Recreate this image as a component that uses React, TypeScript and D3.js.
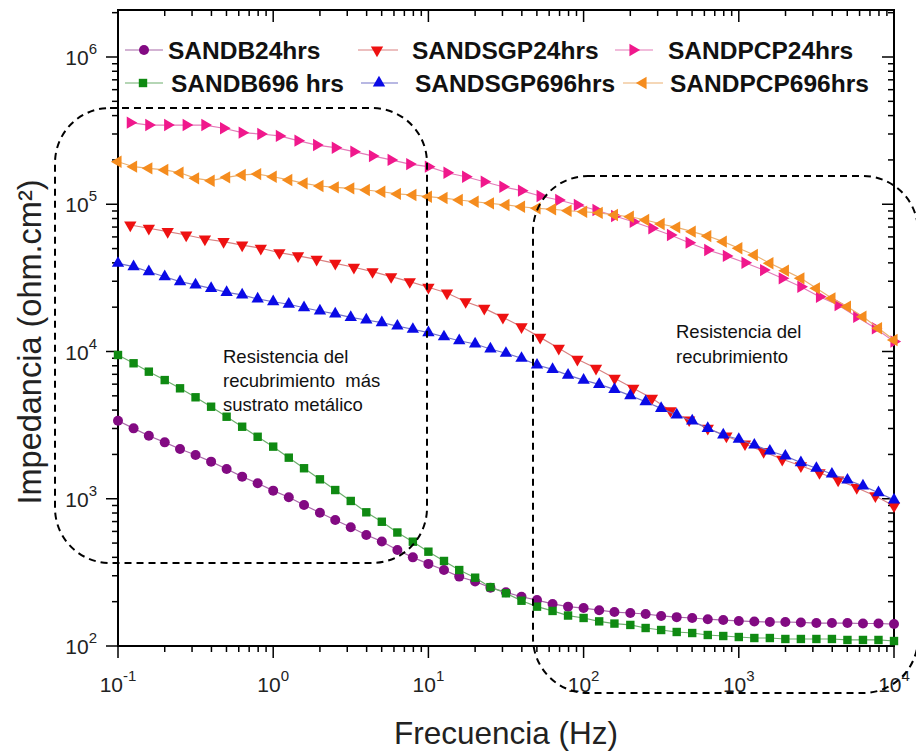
import React from 'react';
import * as d3 from 'd3';

// Measurement frequencies (Hz)
const freqA = [0.1, 0.126, 0.158, 0.2, 0.251, 0.316, 0.398, 0.501, 0.631, 0.794,
  1, 1.26, 1.58, 2, 2.51, 3.16, 3.98, 5.01, 6.31, 7.94,
  10, 12.6, 15.8, 20, 25.1, 31.6, 39.8, 50.1, 63.1, 79.4,
  100, 126, 158, 200, 251, 316, 398, 501, 631, 794,
  1000, 1259, 1585, 1995, 2512, 3162, 3981, 5012, 6310, 7943, 10000];
const freqB = [0.12, 0.158, 0.209, 0.275, 0.363, 0.479, 0.631, 0.832, 1.096, 1.445,
  1.905, 2.512, 3.311, 4.365, 5.754, 7.586, 10, 13.18, 17.38, 22.91,
  30.2, 39.81, 52.48, 69.18, 91.2, 120.2, 158.5, 208.9, 275.4, 363.1,
  478.6, 631, 831.8, 1096, 1445, 1905, 2512, 3311, 4365, 5754, 7586, 10000];

// |Z| in ohm.cm2
const zB24 = [3388, 3006, 2679, 2415, 2178, 1982, 1786, 1592, 1413, 1274,
  1135, 1023, 908, 804, 718, 640, 568, 513, 449, 400,
  361, 328, 296, 274, 249, 232, 216, 205, 193, 185,
  181, 175, 170, 167.5, 165, 160, 157, 155, 152, 150,
  148, 146.6, 145.5, 145.5, 144.5, 143.2, 143.2, 143.2, 142.2, 142.2, 141];
const zB696 = [9466, 8318, 7295, 6397, 5623, 4887, 4217, 3606, 3084, 2636,
  2259, 1901, 1611, 1355, 1146, 966, 809, 698, 590, 511,
  437, 378, 328, 291, 251, 228, 203, 185, 173, 161,
  155, 147, 142, 139, 132.5, 128.4, 124.5, 122.5, 118.8, 116.9,
  115.1, 113.3, 113.3, 111.6, 111.6, 111.6, 111.6, 109.9, 109.9, 109.9, 108.1];
const zSGP24 = [72280, 68710, 65160, 61800, 58080, 55720, 52840, 50230, 46880, 44570,
  42270, 39720, 37330, 34830, 32210, 29790, 27290, 24950, 21780, 19630,
  17060, 14720, 12470, 10510, 8851, 7691, 6577, 5623, 4809, 3963,
  3428, 3006, 2667, 2355, 2089, 1854, 1675, 1503, 1340, 1189, 1045, 893];
const zSGP696 = [39720, 37670, 34830, 32210, 29790, 28310, 26850, 25230, 24210, 22750,
  21780, 20940, 19820, 18840, 17990, 17060, 16370, 15700, 14890, 14160,
  13430, 12590, 11830, 11250, 10400, 9727, 8995, 8091, 7568, 6918,
  6397, 5984, 5534, 5012, 4560, 4111, 3707, 3373, 3006, 2710,
  2535, 2317, 2109, 1950, 1758, 1611, 1472, 1340, 1222, 1099, 982];
const zPCP24 = [358100, 345100, 345100, 345100, 345100, 328100, 306200, 299900, 291100, 270400,
  252400, 242100, 227500, 212800, 200000, 187500, 179900, 163700, 153800, 142200,
  131500, 123600, 113800, 106900, 98860, 91410, 83180, 76030, 68710, 61800,
  54830, 48870, 44570, 40090, 35730, 31410, 27540, 23550, 20700, 17220, 14390, 11670];
const zPCP696 = [194500, 179900, 175400, 171000, 163700, 150000, 144500, 152400, 158100, 160300,
  153800, 146200, 138700, 133000, 130300, 128200, 125000, 121600, 117500, 115600,
  112500, 110200, 106900, 104000, 101400, 98860, 96160, 93760, 92470, 90360,
  88920, 87290, 84530, 82220, 78160, 73450, 69660, 65160, 60810, 55720,
  50230, 45190, 39720, 35400, 31410, 26850, 22960, 20140, 17220, 14390, 11970];

const seriesNames = ['SANDB24hrs', 'SANDB696 hrs', 'SANDSGP24hrs', 'SANDSGP696hrs', 'SANDPCP24hrs', 'SANDPCP696hrs'];
const xTickLabels = ['-1', '0', '1', '2', '3', '4'];
const yTickLabels = ['2', '3', '4', '5', '6'];

type Shape = 'circle' | 'square' | 'down' | 'up' | 'right' | 'left';

const series = [
  { name: seriesNames[0], f: freqA, z: zB24, shape: 'circle' as Shape, color: '#820a82', line: '#a868a8' },
  { name: seriesNames[1], f: freqA, z: zB696, shape: 'square' as Shape, color: '#0f8a12', line: '#6cae6c' },
  { name: seriesNames[2], f: freqB, z: zSGP24, shape: 'down' as Shape, color: '#ee1111', line: '#d98080' },
  { name: seriesNames[3], f: freqA, z: zSGP696, shape: 'up' as Shape, color: '#0a0ae6', line: '#7272c8' },
  { name: seriesNames[4], f: freqB, z: zPCP24, shape: 'right' as Shape, color: '#f0188c', line: '#e47ab8' },
  { name: seriesNames[5], f: freqA, z: zPCP696, shape: 'left' as Shape, color: '#f58c1e', line: '#ebb070' },
];

// legend layout: [lineStart, lineEnd, markerX, textX, rowY]
const legendPos = [
  [125, 163, 144, 168, 50], [125, 163, 143, 171, 83],
  [358, 398, 377, 412, 50], [361, 398, 379, 415, 83],
  [615, 653, 633, 668, 50], [623, 663, 643, 670, 83],
];

const FONT = '"Liberation Sans", Arial, sans-serif';

const Marker: React.FC<{ shape: Shape; x: number; y: number; color: string }> = ({ shape, x, y, color }) => {
  if (shape === 'circle') return <circle cx={x} cy={y} r={5} fill={color} />;
  if (shape === 'square') return <rect x={x - 4.2} y={y - 4.2} width={8.4} height={8.4} fill={color} />;
  const rot = { up: 0, right: 90, down: 180, left: 270 }[shape];
  const d = d3.symbol().type(d3.symbolTriangle).size(66)() as string;
  return <path d={d} transform={`translate(${x},${y}) rotate(${rot})`} fill={color} />;
};

const App: React.FC = () => {
  const W = 916, H = 753;
  const left = 118, right = 894, top = 10, bottom = 646;
  const x = d3.scaleLog().domain([0.1, 1e4]).range([left, right]);
  const y = d3.scaleLog().domain([1e2, 1e6]).range([bottom, 57]);
  const yTopVal = y.invert(top);

  const xTicks = x.ticks();
  const yTicks = d3.scaleLog().domain([1e2, yTopVal]).ticks().filter(v => v <= yTopVal);
  const isMajor = (v: number) => Math.abs(Math.log10(v) - Math.round(Math.log10(v))) < 1e-6;
  const xMajor = xTicks.filter(isMajor);
  const yMajor = yTicks.filter(isMajor);

  const line = d3.line<[number, number]>().x(d => x(d[0])).y(d => y(d[1]));

  return (
    <svg width={W} height={H} style={{ position: 'absolute', left: 0, top: 0, background: '#fff' }} fontFamily={FONT}>
      {/* ticks */}
      <g stroke="#000" strokeWidth={1.5}>
        {xTicks.map((v, i) => {
          const len = isMajor(v) ? 12 : 6;
          return (
            <g key={'xt' + i}>
              <line x1={x(v)} x2={x(v)} y1={bottom} y2={bottom + len} />
              <line x1={x(v)} x2={x(v)} y1={top} y2={top + len} />
            </g>
          );
        })}
        {yTicks.map((v, i) => {
          const len = isMajor(v) ? 12 : 6;
          return (
            <g key={'yt' + i}>
              <line x1={left} x2={left - len} y1={y(v)} y2={y(v)} />
              <line x1={right} x2={right - len} y1={y(v)} y2={y(v)} />
            </g>
          );
        })}
      </g>
      <rect x={left} y={top} width={right - left} height={bottom - top} fill="none" stroke="#000" strokeWidth={2} />

      {/* tick labels */}
      {xMajor.map((v, i) => (
        <text key={'xl' + i} x={x(v)} y={692} textAnchor="middle" fontSize={21} fill="#222">
          10<tspan fontSize={15} dy={-11}>{xTickLabels[i]}</tspan>
        </text>
      ))}
      {yMajor.map((v, i) => (
        <text key={'yl' + i} x={97} y={y(v) + 8} textAnchor="end" fontSize={21} fill="#222">
          10<tspan fontSize={15} dy={-11}>{yTickLabels[i]}</tspan>
        </text>
      ))}

      {/* axis titles */}
      <text x={506} y={744} textAnchor="middle" fontSize={31.5} fill="#222">Frecuencia (Hz)</text>
      <text transform="translate(41,342) rotate(-90)" textAnchor="middle" fontSize={32.5} fill="#222">Impedancia (ohm.cm²)</text>

      {/* series */}
      {series.map(s => {
        const pts = s.f.map((f, i) => [f, s.z[i]] as [number, number]);
        return (
          <g key={s.name}>
            <path d={line(pts) as string} fill="none" stroke={s.line} strokeWidth={1.2} />
            {pts.map((p, i) => <Marker key={i} shape={s.shape} x={x(p[0])} y={y(p[1])} color={s.color} />)}
          </g>
        );
      })}

      {/* legend */}
      {series.map((s, i) => {
        const [x1, x2, mx, tx, ry] = legendPos[i];
        return (
          <g key={'lg' + i}>
            <line x1={x1} x2={x2} y1={ry} y2={ry} stroke={s.line} strokeWidth={1.2} />
            <Marker shape={s.shape} x={mx} y={ry} color={s.color} />
            <text x={tx} y={ry + 9} fontSize={24.5} fontWeight="bold" fill="#111">{s.name}</text>
          </g>
        );
      })}

      {/* annotations */}
      <text fontSize={18.5} fill="#111" style={{ whiteSpace: 'pre' }}>
        <tspan x={223} y={363}>Resistencia del</tspan>
        <tspan x={223} y={387}>recubrimiento  más</tspan>
        <tspan x={223} y={411}>sustrato metálico</tspan>
      </text>
      <text fontSize={18.5} fill="#111">
        <tspan x={676} y={338}>Resistencia del</tspan>
        <tspan x={676} y={363}>recubrimiento</tspan>
      </text>

      {/* dashed regions */}
      <rect x={55} y={108} width={372} height={455} rx={55} fill="none" stroke="#000" strokeWidth={2} strokeDasharray="7 5" />
      <rect x={533} y={176} width={385} height={517} rx={55} fill="none" stroke="#000" strokeWidth={2} strokeDasharray="7 5" />
    </svg>
  );
};

export default App;
